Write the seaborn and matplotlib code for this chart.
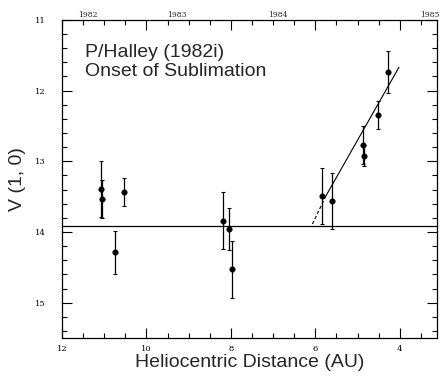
"""Recreate the P/Halley onset-of-sublimation magnitude plot."""

import matplotlib

matplotlib.use("Agg")
import matplotlib.pyplot as plt
import numpy as np
import pandas as pd
import seaborn as sns
from matplotlib.ticker import MultipleLocator

# Observations: heliocentric distance (AU), reduced magnitude, error
distance = [11.08, 11.06, 10.54, 10.74, 8.19, 8.04, 7.98, 5.85, 5.61, 4.87, 4.84, 4.51, 4.27]
magnitude = [13.39, 13.53, 13.43, 14.29, 13.84, 13.96, 14.53, 13.49, 13.56, 12.77, 12.92, 12.34, 11.74]
mag_error = [0.40, 0.27, 0.20, 0.30, 0.40, 0.30, 0.40, 0.40, 0.40, 0.27, 0.15, 0.20, 0.30]

# Quiescent level and sublimation trend line
baseline_mag = 13.91
trend_dashed_r = [6.08, 5.75]
trend_dashed_v = [13.90, 13.49]
trend_solid_r = [5.75, 4.02]
trend_solid_v = [13.49, 11.67]

# Calendar labels along the top axis
year_labels = ["1982", "1983", "1984", "1985"]
year_positions = [11.38, 9.28, 6.89, 3.29]

sns.set_theme(style="ticks")
plt.rcParams["font.family"] = ["Liberation Sans", "DejaVu Sans"]

df = pd.DataFrame({"r": distance, "v": magnitude, "err": mag_error})

fig = plt.figure(figsize=(4.4, 3.76), dpi=100)
ax = fig.add_axes([0.141, 0.101, 0.852, 0.846])

ax.axhline(baseline_mag, color="black", linewidth=0.9)
sns.lineplot(x=trend_dashed_r, y=trend_dashed_v, color="black", linewidth=0.8,
             linestyle=(0, (3, 2)), ax=ax)
sns.lineplot(x=trend_solid_r, y=trend_solid_v, color="black", linewidth=0.8, ax=ax)

ax.errorbar(df["r"], df["v"], yerr=df["err"], fmt="none", ecolor="black",
            elinewidth=0.9, capsize=1.5, capthick=0.8)
sns.scatterplot(data=df, x="r", y="v", color="black", s=16, edgecolor="black",
                linewidth=0.3, zorder=5, ax=ax)

ax.set_xlim(12, 3.12)
ax.set_ylim(15.5, 11)
ax.xaxis.set_major_locator(MultipleLocator(2))
ax.xaxis.set_minor_locator(MultipleLocator(0.5))
ax.yaxis.set_major_locator(MultipleLocator(1))
ax.yaxis.set_minor_locator(MultipleLocator(0.2))
ax.tick_params(which="both", direction="in", top=True, right=True, width=0.8,
               labelsize=6, colors="black")
ax.tick_params(which="major", length=7)
ax.tick_params(which="minor", length=3.5)
ax.tick_params(axis="y", pad=12)
ax.tick_params(axis="x", pad=5)
ax.set_yticks([11, 12, 13, 14, 15])
ax.set_yticklabels(["11", "12", "13", "14", "15"], family="DejaVu Serif")
ax.set_xticks([12, 10, 8, 6, 4])
ax.set_xticklabels(["12", "10", "8", "6", "4"], family="DejaVu Serif")
for spine in ax.spines.values():
    spine.set_linewidth(0.9)
    spine.set_color("black")

for label, pos in zip(year_labels, year_positions):
    ax.text(pos, 1.003, label, transform=ax.get_xaxis_transform(), ha="center",
            va="bottom", fontsize=5.5, family="DejaVu Serif")

ax.text(11.45, 11.52, "P/Halley (1982i)", fontsize=14, ha="left", va="baseline")
ax.text(11.45, 11.8, "Onset of Sublimation", fontsize=14, ha="left", va="baseline")

ax.set_xlabel("Heliocentric Distance (AU)", fontsize=14, labelpad=1)
ax.set_ylabel("V (1, 0)", fontsize=14, labelpad=6)

fig.savefig("out.png", dpi=100)
